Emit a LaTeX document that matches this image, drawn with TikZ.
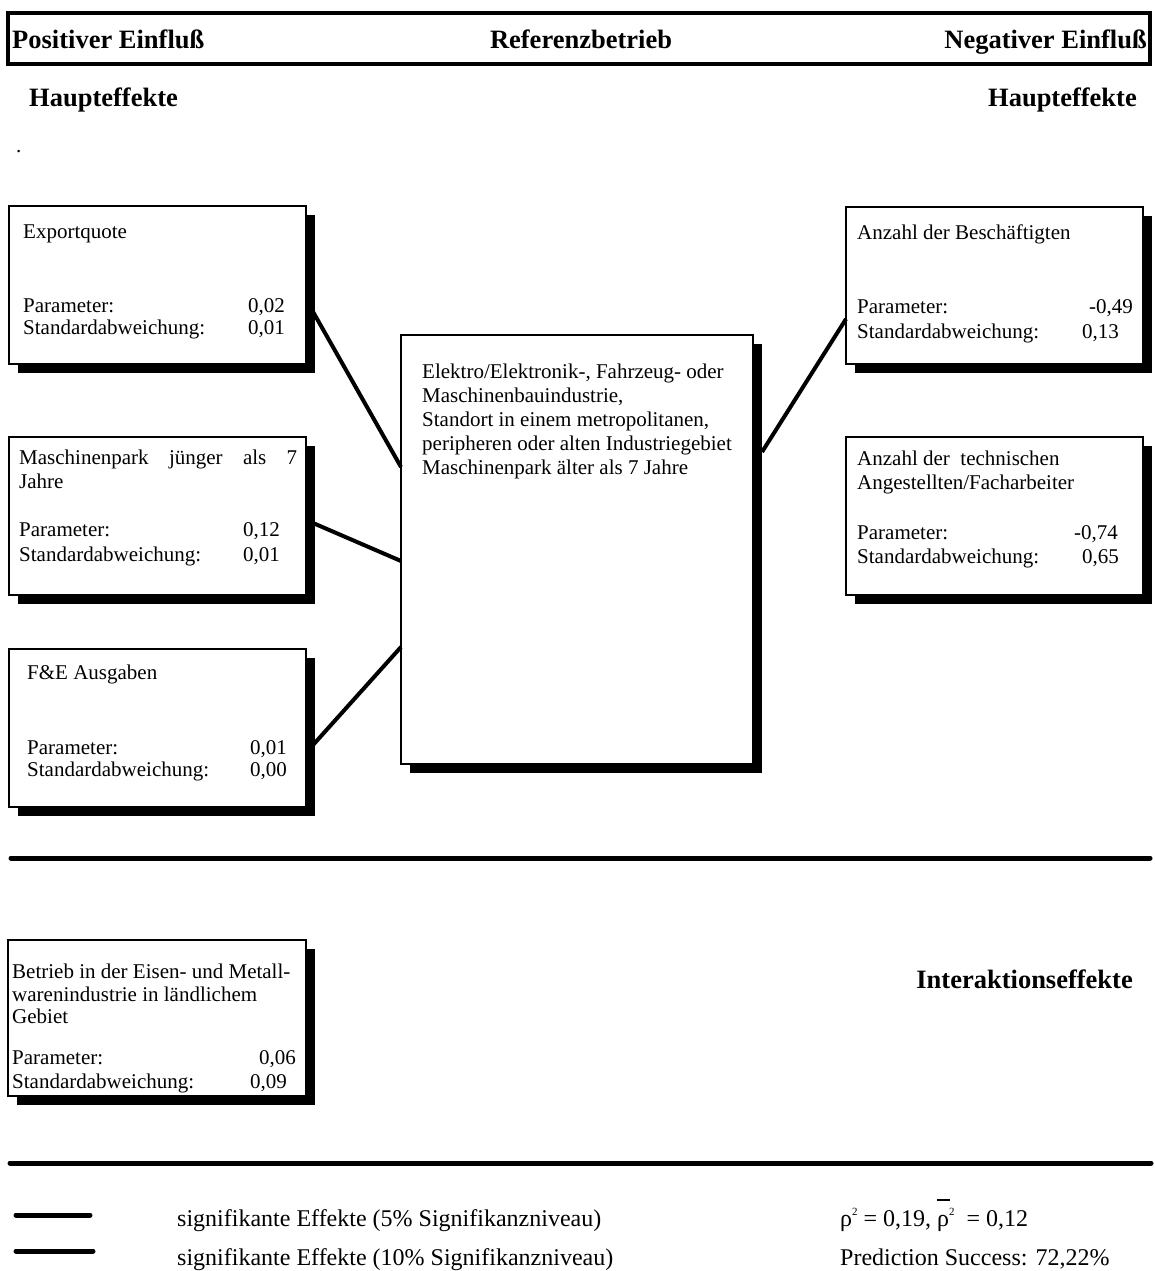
\documentclass[tikz,border=0pt]{standalone}
\usepackage{fontspec}
\setmainfont{Liberation Serif}
\usetikzlibrary{calc,shadows}

\tikzset{
  kasten/.style={draw, line width=1.6pt, fill=white, outer sep=0pt, inner sep=0pt, anchor=north west,
    drop shadow={shadow xshift=9pt, shadow yshift=-9pt, fill=black, opacity=1}},
  txt/.style={font=\fontsize{21pt}{24pt}\selectfont, inner sep=0pt},
  fett/.style={font=\fontsize{26.5pt}{30pt}\selectfont\bfseries, inner sep=0pt},
  leg/.style={font=\fontsize{24pt}{28pt}\selectfont, inner sep=0pt},
  linie/.style={line width=4pt},
  balken/.style={line width=5pt, line cap=round},
}
\newcommand{\hoch}{\raisebox{0.42em}{\fontsize{11pt}{11pt}\selectfont 2}}

\begin{document}
\begin{tikzpicture}[x=1pt, y=-1pt]
\useasboundingbox (0,0) rectangle (1155,1271);
\newcommand{\zeile}[6]{%
  \node[txt, anchor=base west] (#1) at (#2,#3) {#4};
  \node[txt, anchor=base east] (#1-w) at (#5,#3) {#6};
}

% Kopfzeile
\node[draw, line width=4pt, outer sep=0pt, inner sep=0pt, anchor=north west,
  minimum width=1142pt, minimum height=50.5pt] (kopf) at (8,13.5) {};
\node[fett, anchor=base west] (pos) at (12,49) {Positiver Einfluß};
\node[fett, anchor=base] (refb) at (581,49) {Referenzbetrieb};
\node[fett, anchor=base east] (neg) at (1147,49) {Negativer Einfluß};
\node[fett, anchor=base west] (haupt-l) at (29,107) {Haupteffekte};
\node[fett, anchor=base east] (haupt-r) at (1137,107) {Haupteffekte};
\node[txt, anchor=base west] (punkt) at (16,152) {.};

% Kaesten
\node[kasten, minimum width=297pt, minimum height=158pt] (exp) at (9,206) {};
\node[kasten, minimum width=297pt, minimum height=158pt] (masch) at (9,437) {};
\node[kasten, minimum width=297pt, minimum height=158pt] (fue) at (9,649) {};
\node[kasten, minimum width=352pt, minimum height=429pt] (ref) at (401,335) {};
\node[kasten, minimum width=297pt, minimum height=157pt] (besch) at (846,207) {};
\node[kasten, minimum width=297pt, minimum height=158pt] (tech) at (846,437) {};
\node[kasten, minimum width=298pt, minimum height=156pt] (metall) at (8,940) {};

% Exportquote
\node[txt, anchor=base west] (exp-t) at (23,238) {Exportquote};
\zeile{exp-p}{23}{312}{Parameter:}{285}{0,02}
\zeile{exp-s}{23}{334}{Standardabweichung:}{285}{0,01}

% Maschinenpark
\node[txt, anchor=base west] (masch-t) at (19,464) {\makebox[278pt][s]{Maschinenpark\hfill jünger\hfill als\hfill 7}};
\node[txt, anchor=base west] (masch-t2) at (19,488) {Jahre};
\zeile{masch-p}{19}{536}{Parameter:}{280}{0,12}
\zeile{masch-s}{19}{561}{Standardabweichung:}{280}{0,01}

% F&E
\node[txt, anchor=base west] (fue-t) at (27,679) {F\&E Ausgaben};
\zeile{fue-p}{27}{754}{Parameter:}{287}{0,01}
\zeile{fue-s}{27}{776}{Standardabweichung:}{287}{0,00}

% Referenzbetrieb
\foreach \z [count=\i] in {{Elektro/Elektronik-, Fahrzeug- oder}, {Maschinenbauindustrie,},
  {Standort in einem metropolitanen,}, {peripheren oder alten Industriegebiet},
  {Maschinenpark älter als 7 Jahre}}
  \node[txt, anchor=base west] (ref-\i) at (422,354+24*\i) {\z};

% Beschaeftigte
\node[txt, anchor=base west] (besch-t) at (857,239) {Anzahl der Beschäftigten};
\zeile{besch-p}{857}{313}{Parameter:}{1133}{-0,49}
\zeile{besch-s}{857}{338}{Standardabweichung:}{1119}{0,13}

% technische Angestellte
\node[txt, anchor=base west] (tech-t) at (857,465) {Anzahl der~ technischen};
\node[txt, anchor=base west] (tech-t2) at (857,489) {Angestellten/Facharbeiter};
\zeile{tech-p}{857}{539}{Parameter:}{1118}{-0,74}
\zeile{tech-s}{857}{563}{Standardabweichung:}{1119}{0,65}

% Interaktion
\node[txt, anchor=base west] (metall-t) at (12,978) {Betrieb in der Eisen- und Metall-};
\node[txt, anchor=base west] (metall-t2) at (12,1001) {warenindustrie in ländlichem};
\node[txt, anchor=base west] (metall-t3) at (12,1023) {Gebiet};
\zeile{metall-p}{12}{1064}{Parameter:}{296}{0,06}
\zeile{metall-s}{12}{1088}{Standardabweichung:}{287}{0,09}
\node[fett, anchor=base east] (inter) at (1133,988) {Interaktionseffekte};

% Verbindungen
\draw[linie] ($(exp.north east)+(6,104)$) -- ($(ref.north west)+(0,132)$);
\draw[linie] ($(masch.north east)+(7,86)$) -- ($(ref.north west)+(0,226)$);
\draw[linie] ($(fue.north east)+(7,96)$) -- ($(ref.north west)+(0,312)$);
\draw[linie] ($(ref.north east)+(9,117)$) -- ($(besch.north west)+(0,112)$);

% Trennlinien
\draw[balken] (11,858) -- (1150,858);
\draw[balken] (10,1163) -- (1151,1163);

% Legende
\draw[balken] (16,1215) -- (90,1215);
\draw[balken] (16,1251) -- (93,1251);
\node[leg, anchor=base west] (sig5) at (177,1226) {signifikante Effekte (5\% Signifikanzniveau)};
\node[leg, anchor=base west] (sig10) at (177,1265) {signifikante Effekte (10\% Signifikanzniveau)};
\node[leg, anchor=base west] (rho) at (840,1226)
  {ρ\hoch{} = 0,19, \makebox[0pt][l]{\rule[1.05em]{0.55em}{1.6pt}}ρ\hoch\ \ = 0,12};
\node[leg, anchor=base west] (pred) at (840,1265) {Prediction Success: 72,22\%};
\end{tikzpicture}
\end{document}
